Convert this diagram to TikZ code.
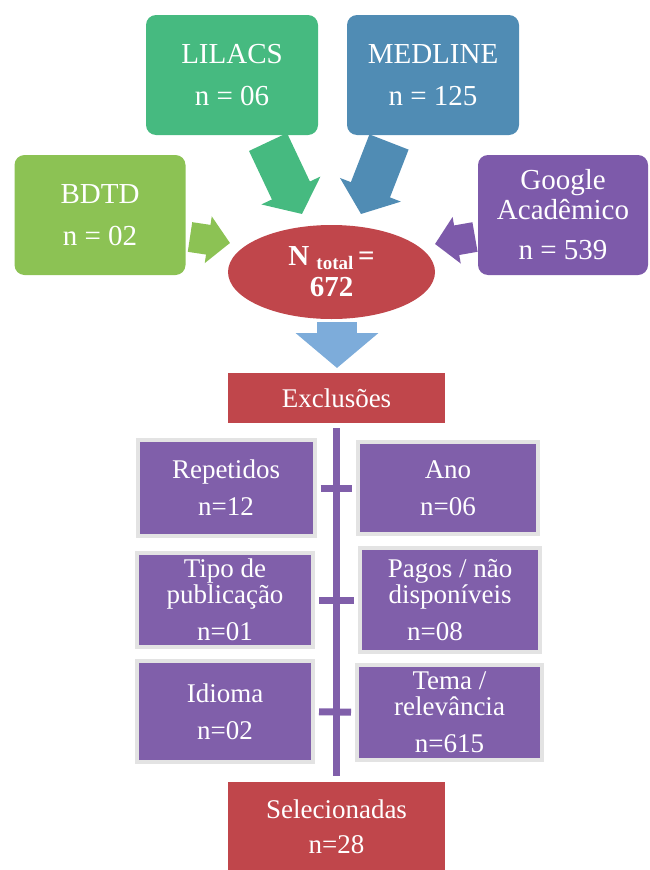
\documentclass[tikz,border=0pt]{standalone}
\usepackage{fontspec}
\setmainfont{Liberation Serif}
\usetikzlibrary{arrows.meta,shapes.geometric}
\definecolor{lilgreen}{RGB}{70,186,128}
\definecolor{medblue}{RGB}{80,140,180}
\definecolor{bdtdgreen}{RGB}{140,194,84}
\definecolor{gpurple}{RGB}{125,90,170}
\definecolor{boxred}{RGB}{192,70,75}
\definecolor{exclpurple}{RGB}{128,95,170}
\definecolor{arrowblue}{RGB}{125,172,218}
\begin{document}
\begin{tikzpicture}[x=1pt,y=-1pt,
        srcbox/.style={rounded corners=10pt, text=white, align=center, minimum width=172pt, minimum height=120pt, font=\fontsize{29}{30}\selectfont},
        exclbox/.style={fill=exclpurple, draw=gray!22, line width=4pt, text=white, align=center, font=\fontsize{27}{26}\selectfont},
        redbox/.style={fill=boxred, text=white, align=center, minimum width=217pt, font=\fontsize{27}{26}\selectfont},
        fatarrow/.style={line width=42pt, -{Triangle[length=26pt,width=64pt]}},
        ticks/.style={exclpurple, line width=7pt, shorten <=4pt, shorten >=4pt}]
        \useasboundingbox (0,0) rectangle (649,870);
        \node[srcbox, fill=lilgreen] (lilacs) at (232,75) {LILACS\\[12pt]n = 06};
        \node[srcbox, fill=medblue] (medline) at (433,75) {MEDLINE\\[12pt]n = 125};
        \node[srcbox, fill=bdtdgreen, minimum width=171pt] (bdtd) at (100,215) {BDTD\\[12pt]n = 02};
        \node[srcbox, fill=gpurple, minimum width=170pt] (google) at (563,215) {Google\\Acadêmico\\[10pt]n = 539};
        \node[ellipse, fill=boxred, text=white, minimum width=207pt, minimum height=94pt, inner sep=0pt, align=center, font=\fontsize{29}{28}\selectfont\bfseries] (total) at (331.5,272) {N {\fontsize{19}{19}\selectfont\raisebox{-4pt}{total}}\,=\\[3pt]672};
        \coordinate (lilacs-a) at (268,142);
        \coordinate (lilacs-b) at (302,214);
        \coordinate (medline-a) at (389,142);
        \coordinate (medline-b) at (361,214);
        \coordinate (bdtd-a) at (190,237);
        \coordinate (bdtd-b) at (230,243);
        \coordinate (google-a) at (475,237);
        \coordinate (google-b) at (435,244);
        \draw[fatarrow, lilgreen] (lilacs-a) -- (lilacs-b);
        \draw[fatarrow, medblue] (medline-a) -- (medline-b);
        \draw[fatarrow, bdtdgreen, line width=30pt, -{Triangle[length=22pt,width=46pt]}] (bdtd-a) -- (bdtd-b);
        \draw[fatarrow, gpurple, line width=30pt, -{Triangle[length=22pt,width=46pt]}] (google-a) -- (google-b);
        \node[redbox, minimum height=50pt] (excl) at (336.5,398) {Exclusões};
        \coordinate (total-a) at (337,322);
        \coordinate (total-b) at (337,368);
        \draw[fatarrow, arrowblue, line width=40pt, -{Triangle[length=35pt,width=81pt]}] (total-a) -- (total-b);
        \node[redbox, minimum height=90pt, anchor=north] (sel) at (336.5,782) {Selecionadas\\[9pt]n=28};
        \draw[exclpurple, line width=7pt, shorten <=5pt, shorten >=6pt] (excl) -- (sel);
        \node[exclbox, minimum width=177pt, minimum height=96pt] (rep) at (226,488) {Repetidos\\[11pt]n=12};
        \node[exclbox, minimum width=180pt, minimum height=92pt] (ano) at (448,488) {Ano\\[11pt]n=06};
        \node[exclbox, minimum width=176pt, minimum height=94pt] (tipo) at (225,600) {Tipo de\\publicação\\[11pt]n=01};
        \node[exclbox, minimum width=180pt, minimum height=104pt] (pagos) at (450,600) {Pagos / não\\disponíveis\\[11pt]\hspace*{-30pt}n=08};
        \node[exclbox, minimum width=176pt, minimum height=101pt] (idioma) at (225,711.5) {Idioma\\[11pt]n=02};
        \node[exclbox, minimum width=185pt, minimum height=95pt] (tema) at (449.5,712.5) {Tema /\\relevância\\[11pt]n=615};
        \draw[ticks] (rep) -- (ano);
        \draw[ticks] (tipo) -- (pagos);
        \draw[ticks] (idioma) -- (tema);
\end{tikzpicture}
\end{document}
